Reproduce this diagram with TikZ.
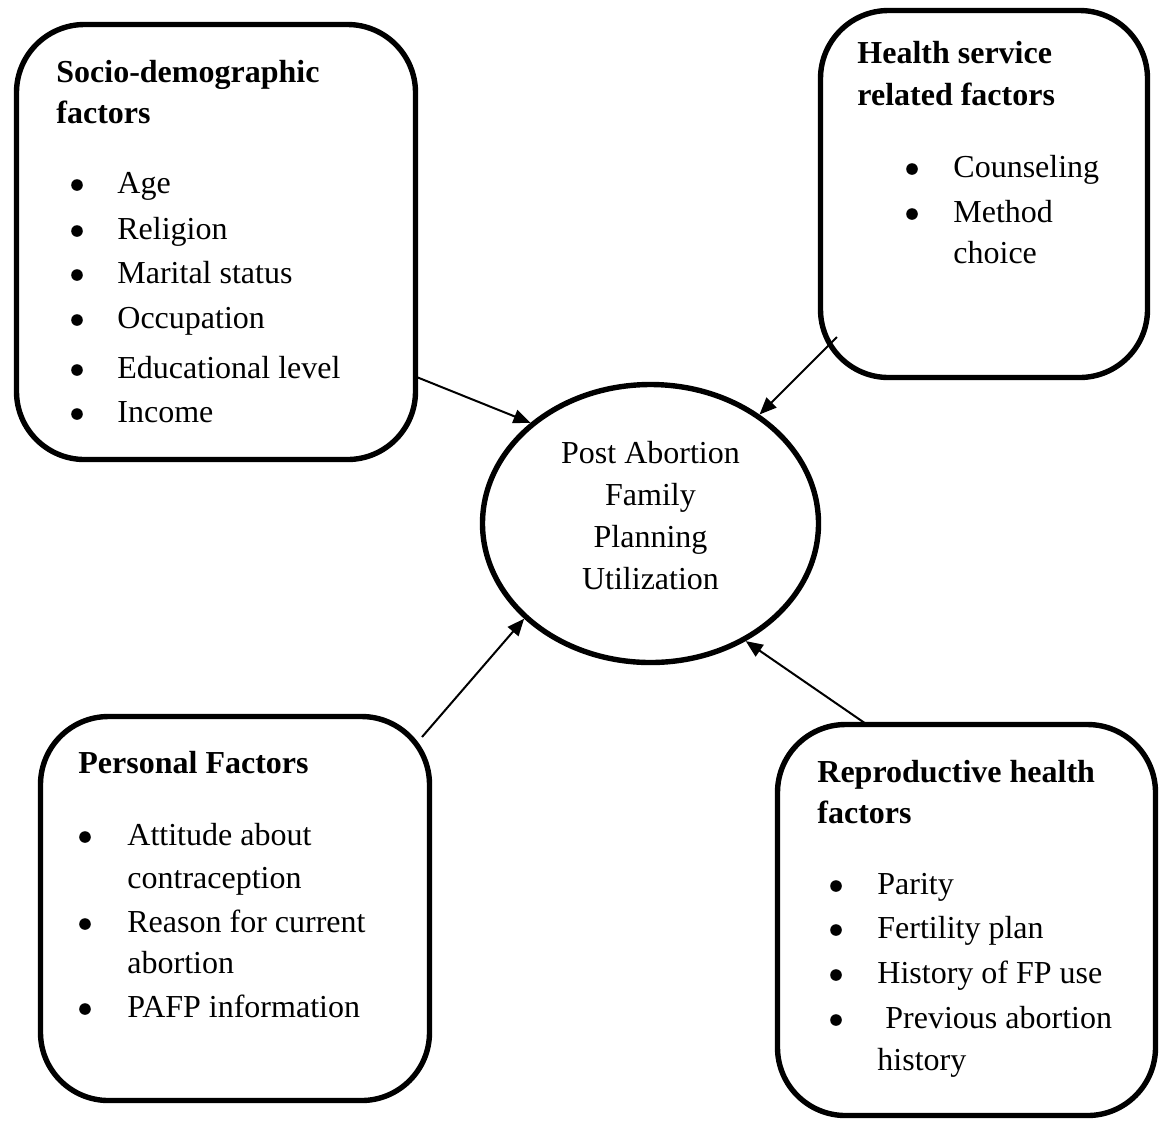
\documentclass[tikz,border=0pt]{standalone}
\usepackage{fontspec}
\setmainfont{Liberation Serif}
\usetikzlibrary{arrows.meta, shapes.geometric}

\begin{document}
\begin{tikzpicture}[x=0.5pt,y=-0.5pt]
	\tikzstyle{box} = [draw=black,line width=2.7pt,rounded corners=34pt,inner sep=0pt,outer sep=0pt]
	\tikzstyle{oval} = [ellipse,draw=black,line width=2.7pt,inner sep=0pt]
	\tikzstyle{head} = [anchor=base west,inner sep=0pt,font=\fontsize{16}{20}\selectfont\bfseries]
	\tikzstyle{item} = [anchor=base west,inner sep=0pt,font=\fontsize{16}{20}\selectfont]
	\tikzstyle{bul} = [circle,fill=black,inner sep=0pt,minimum size=5.8pt]
	\tikzstyle{arr} = [-{Triangle[length=8.5pt,width=7pt]},line width=1pt]
	\useasboundingbox (0,0) rectangle (1161,1121);

	\node[box,minimum width=199.5pt,minimum height=217.5pt] (socio) at (216,242) {};
	\node[box,minimum width=163.5pt,minimum height=183.5pt] (health) at (984,194) {};
	\node[box,minimum width=194.5pt,minimum height=192pt] (personal) at (235,908.5) {};
	\node[box,minimum width=189pt,minimum height=195.5pt] (repro) at (966.5,920) {};
	\node[oval,minimum width=168pt,minimum height=139pt] (pafp) at (650.5,523.5) {};
	\node[align=center,inner sep=0pt,font=\fontsize{16}{21}\selectfont] (pafplabel) at (650.5,516) {Post Abortion\\Family\\Planning\\Utilization};

	% socio-demographic
	\node[head] (socioT1) at (56,82) {Socio-demographic};
	\node[head] (socioT2) at (56,123) {factors};
	\node[bul] (socioB1) at (77,185) {};
	\node[bul] (socioB2) at (77,231) {};
	\node[bul] (socioB3) at (77,275) {};
	\node[bul] (socioB4) at (77,320) {};
	\node[bul] (socioB5) at (77,370) {};
	\node[bul] (socioB6) at (77,414) {};
	\node[item] (socioI1) at (117,193) {Age};
	\node[item] (socioI2) at (117,239) {Religion};
	\node[item] (socioI3) at (117,283) {Marital status};
	\node[item] (socioI4) at (117,328) {Occupation};
	\node[item] (socioI5) at (117,378) {Educational level};
	\node[item] (socioI6) at (117,422) {Income};

	% health service
	\node[head] (healthT1) at (857,63) {Health service};
	\node[head] (healthT2) at (857,105) {related factors};
	\node[bul] (healthB1) at (912,169) {};
	\node[bul] (healthB2) at (912,214) {};
	\node[item] (healthI1) at (953,177) {Counseling};
	\node[item] (healthI2) at (953,222) {Method};
	\node[item] (healthI3) at (953,263) {choice};

	% personal
	\node[head] (personalT1) at (78,773) {Personal Factors};
	\node[bul] (personalB1) at (85,837) {};
	\node[bul] (personalB2) at (85,924) {};
	\node[bul] (personalB3) at (85,1009) {};
	\node[item] (personalI1) at (127,845) {Attitude about};
	\node[item] (personalI2) at (127,888) {contraception};
	\node[item] (personalI3) at (127,932) {Reason for current};
	\node[item] (personalI4) at (127,973) {abortion};
	\node[item] (personalI5) at (127,1017) {PAFP information};

	% reproductive health
	\node[head] (reproT1) at (817,782) {Reproductive health};
	\node[head] (reproT2) at (817,823) {factors};
	\node[bul] (reproB1) at (836,886) {};
	\node[bul] (reproB2) at (836,930) {};
	\node[bul] (reproB3) at (836,975) {};
	\node[bul] (reproB4) at (836,1020) {};
	\node[item] (reproI1) at (877,894) {Parity};
	\node[item] (reproI2) at (877,938) {Fertility plan};
	\node[item] (reproI3) at (877,983) {History of FP use};
	\node[item] (reproI4) at (885,1028) {Previous abortion};
	\node[item] (reproI5) at (877,1070) {history};

	\coordinate (healthfoot) at (837,337);
	\coordinate (personalfoot) at (422,737);

	\draw[arr] (socio.-34.6) -- (pafp.140.5);
	\draw[arr] (healthfoot) -- (pafp.45.8);
	\draw[arr] (personalfoot) -- (pafp.217);
	\draw[arr] (repro.117.8) -- (pafp.309.2);
\end{tikzpicture}
\end{document}
